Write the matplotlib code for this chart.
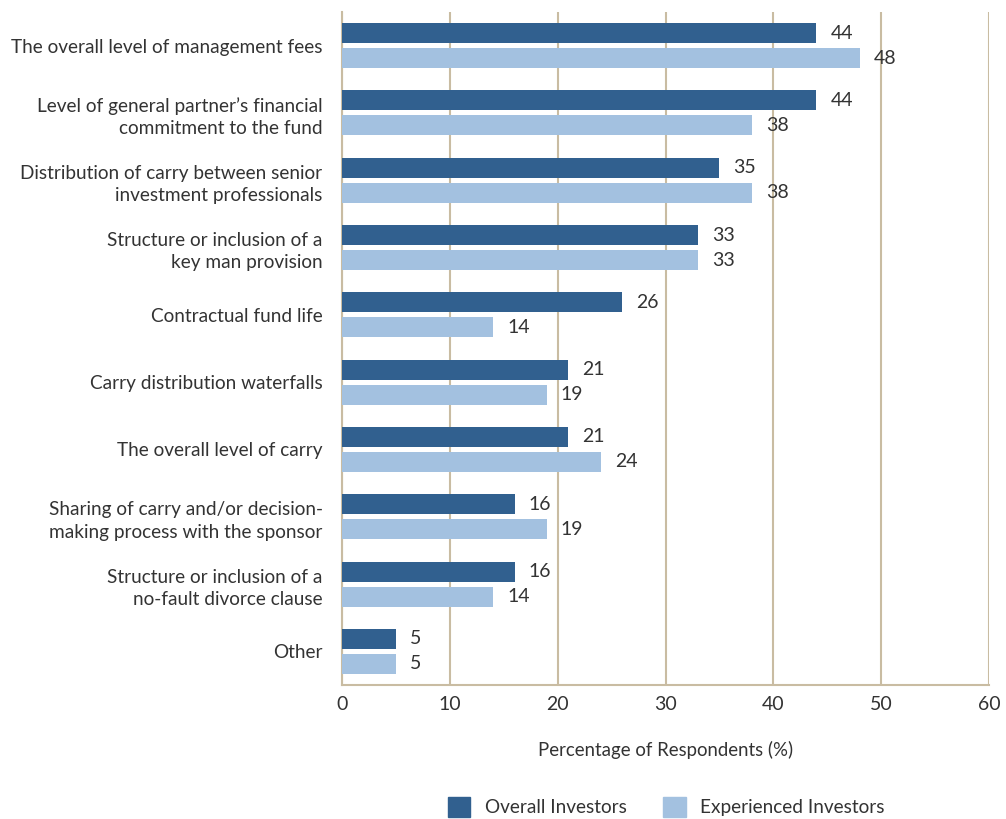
import matplotlib
matplotlib.use("Agg")
import matplotlib.pyplot as plt
import numpy as np
from matplotlib.patches import Patch

categories = [
    "The overall level of management fees",
    "Level of general partner\u2019s financial\ncommitment to the fund",
    "Distribution of carry between senior\ninvestment professionals",
    "Structure or inclusion of a\nkey man provision",
    "Contractual fund life",
    "Carry distribution waterfalls",
    "The overall level of carry",
    "Sharing of carry and/or decision-\nmaking process with the sponsor",
    "Structure or inclusion of a\nno-fault divorce clause",
    "Other",
]
overall = [44, 44, 35, 33, 26, 21, 21, 16, 16, 5]
experienced = [48, 38, 38, 33, 14, 19, 24, 19, 14, 5]
series_names = ["Overall Investors", "Experienced Investors"]
xticks = [0, 10, 20, 30, 40, 50, 60]

dark = "#31608F"
light = "#A3C1E0"
grid_c = "#C9BCA2"
text_c = "#333333"

plt.rcParams['font.family'] = ['Lato', 'DejaVu Sans']

fig = plt.figure(figsize=(10.06, 8.19), dpi=100)
ax = fig.add_axes([342/1006, 1-685/819, (989-342)/1006, (685-12)/819])

y = np.arange(len(categories))
h = 0.297
off = 0.186
ax.barh(y - off, overall, height=h, color=dark, zorder=3)
ax.barh(y + off, experienced, height=h, color=light, zorder=3)

for yi, v in zip(y, overall):
    ax.text(v + 1.3, yi - off, str(v), va='center', ha='left', fontsize=14, color=text_c)
for yi, v in zip(y, experienced):
    ax.text(v + 1.3, yi + off, str(v), va='center', ha='left', fontsize=14, color=text_c)

ax.set_xlim(0, 60)
ax.set_ylim(len(categories) - 0.5, -0.5)
ax.set_yticks(y)
ax.set_yticklabels(categories, fontsize=13.7, color=text_c, linespacing=1.38)
ax.set_xticks(xticks)
ax.set_xticklabels([str(t) for t in xticks], fontsize=14, color=text_c)
ax.tick_params(axis='both', length=0)
ax.tick_params(axis='y', pad=14)
ax.tick_params(axis='x', pad=8)

for s in ['top', 'right']:
    ax.spines[s].set_visible(False)
for s in ['left', 'bottom']:
    ax.spines[s].set_color(grid_c)
    ax.spines[s].set_linewidth(1.5)

ax.grid(axis='x', color=grid_c, linewidth=1.5, zorder=0)
ax.set_axisbelow(True)

ax.set_xlabel("Percentage of Respondents (%)", fontsize=13.4, color=text_c, labelpad=20)

handles = [Patch(color=dark), Patch(color=light)]
fig.legend(handles, series_names, loc='center', bbox_to_anchor=(666/1006, 1-807/819),
           ncol=2, frameon=False, fontsize=13.7, handlelength=1.2, handleheight=1.2,
           columnspacing=1.9, handletextpad=0.75, labelcolor=text_c)

fig.savefig("out.png", dpi=100)
